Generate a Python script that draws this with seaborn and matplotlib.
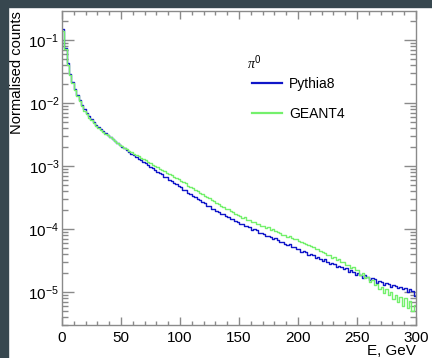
import numpy as np
import matplotlib
matplotlib.use("Agg")
from matplotlib import pyplot as plt
from matplotlib.patches import Rectangle
from matplotlib.ticker import MultipleLocator, LogLocator, NullFormatter
import pandas as pd
import seaborn as sns

# 2 GeV bins, 0-300 GeV
edges = np.arange(0, 302, 2)
centers = edges[:-1] + 1

pythia8 = [
    1.50e-1, 7.59e-2, 4.37e-2, 2.95e-2, 2.19e-2, 1.70e-2, 1.365e-2, 1.12e-2, 9.33e-3, 7.94e-3,
    6.92e-3, 6.17e-3, 5.56e-3, 5.01e-3, 4.57e-3, 4.22e-3, 3.89e-3, 3.63e-3, 3.39e-3, 3.16e-3,
    2.92e-3, 2.69e-3, 2.51e-3, 2.34e-3, 2.19e-3, 2.04e-3, 1.93e-3, 1.82e-3, 1.70e-3, 1.58e-3,
    1.49e-3, 1.42e-3, 1.31e-3, 1.25e-3, 1.15e-3, 1.11e-3, 1.03e-3, 9.8e-4, 9.2e-4, 8.8e-4,
    8.1e-4, 7.8e-4, 7.4e-4, 6.8e-4, 6.7e-4, 6.1e-4, 5.9e-4, 5.4e-4, 5.2e-4, 4.8e-4,
    4.6e-4, 4.2e-4, 4.1e-4, 3.75e-4, 3.62e-4, 3.35e-4, 3.2e-4, 2.95e-4, 2.85e-4, 2.66e-4,
    2.58e-4, 2.36e-4, 2.29e-4, 2.12e-4, 2.07e-4, 1.93e-4, 1.88e-4, 1.74e-4, 1.72e-4, 1.60e-4,
    1.57e-4, 1.45e-4, 1.43e-4, 1.32e-4, 1.31e-4, 1.22e-4, 1.21e-4, 1.13e-4, 1.12e-4, 1.08e-4,
    9.8e-5, 9.9e-5, 9.5e-5, 8.7e-5, 8.8e-5, 8.5e-5, 7.8e-5, 7.9e-5, 7.5e-5, 6.9e-5,
    7.1e-5, 6.7e-5, 6.2e-5, 6.3e-5, 5.8e-5, 5.6e-5, 5.7e-5, 5.1e-5, 5.2e-5, 4.8e-5,
    4.9e-5, 4.4e-5, 4.5e-5, 4.3e-5, 3.9e-5, 4.0e-5, 3.9e-5, 3.5e-5, 3.6e-5, 3.4e-5,
    3.1e-5, 3.3e-5, 3.0e-5, 2.8e-5, 2.9e-5, 2.8e-5, 2.5e-5, 2.6e-5, 2.5e-5, 2.3e-5,
    2.4e-5, 2.1e-5, 2.2e-5, 2.1e-5, 1.9e-5, 2.0e-5, 1.9e-5, 1.7e-5, 1.85e-5, 1.75e-5,
    1.55e-5, 1.65e-5, 1.6e-5, 1.4e-5, 1.5e-5, 1.45e-5, 1.3e-5, 1.4e-5, 1.35e-5, 1.2e-5,
    1.3e-5, 1.25e-5, 1.15e-5, 1.22e-5, 1.1e-5, 1.18e-5, 1.0e-5, 1.12e-5, 1.05e-5, 8.6e-6,
]

geant4 = [
    1.42e-1, 7.1e-2, 4.1e-2, 2.78e-2, 2.07e-2, 1.61e-2, 1.30e-2, 1.07e-2, 8.9e-3, 7.6e-3,
    6.6e-3, 5.9e-3, 5.3e-3, 4.8e-3, 4.38e-3, 4.05e-3, 3.75e-3, 3.50e-3, 3.28e-3, 3.07e-3,
    2.86e-3, 2.66e-3, 2.49e-3, 2.34e-3, 2.20e-3, 2.07e-3, 1.96e-3, 1.86e-3, 1.76e-3, 1.67e-3,
    1.58e-3, 1.50e-3, 1.43e-3, 1.36e-3, 1.29e-3, 1.23e-3, 1.16e-3, 1.10e-3, 1.05e-3, 1.00e-3,
    9.6e-4, 9.1e-4, 8.7e-4, 8.3e-4, 7.9e-4, 7.6e-4, 7.2e-4, 6.8e-4, 6.5e-4, 6.2e-4,
    5.8e-4, 5.5e-4, 5.3e-4, 4.9e-4, 4.7e-4, 4.45e-4, 4.15e-4, 4.0e-4, 3.75e-4, 3.6e-4,
    3.4e-4, 3.2e-4, 3.07e-4, 2.9e-4, 2.77e-4, 2.6e-4, 2.52e-4, 2.35e-4, 2.28e-4, 2.12e-4,
    2.06e-4, 1.93e-4, 1.86e-4, 1.74e-4, 1.70e-4, 1.60e-4, 1.52e-4, 1.53e-4, 1.41e-4, 1.40e-4,
    1.30e-4, 1.29e-4, 1.21e-4, 1.19e-4, 1.13e-4, 1.12e-4, 1.05e-4, 1.06e-4, 9.8e-5, 9.9e-5,
    9.2e-5, 8.9e-5, 8.6e-5, 8.2e-5, 8.1e-5, 7.6e-5, 7.7e-5, 7.2e-5, 7.0e-5, 6.9e-5,
    6.4e-5, 6.3e-5, 6.0e-5, 5.7e-5, 5.6e-5, 5.3e-5, 5.2e-5, 4.8e-5, 4.9e-5, 4.5e-5,
    4.4e-5, 4.2e-5, 3.9e-5, 3.9e-5, 3.5e-5, 3.6e-5, 3.2e-5, 3.3e-5, 3.0e-5, 2.95e-5,
    2.7e-5, 2.7e-5, 2.4e-5, 2.5e-5, 2.2e-5, 2.2e-5, 1.9e-5, 2.0e-5, 1.7e-5, 1.75e-5,
    1.45e-5, 1.55e-5, 1.3e-5, 1.35e-5, 1.1e-5, 1.2e-5, 9.5e-6, 1.1e-5, 9.0e-6, 1.0e-5,
    7.8e-6, 9.0e-6, 7.0e-6, 8.5e-6, 6.0e-6, 8.0e-6, 5.5e-6, 7.2e-6, 5.0e-6, 6.2e-6,
]

series_names = ["Pythia8", "GEANT4"]
series_colors = ["#1016c8", "#74f06c"]

plt.rcParams["font.family"] = ["Liberation Sans", "DejaVu Sans"]
plt.rcParams["mathtext.fontset"] = "custom"
plt.rcParams["mathtext.rm"] = "Liberation Sans"
plt.rcParams["mathtext.it"] = "Liberation Serif:italic"
plt.rcParams["mathtext.default"] = "regular"

fig, ax = plt.subplots(figsize=(4.32, 3.58), dpi=100)
fig.subplots_adjust(left=62/432, right=416/432, bottom=33/358, top=347/358)

for name, vals, col in zip(series_names, [pythia8, geant4], series_colors):
    df = pd.DataFrame({"E": centers, "counts": vals})
    sns.histplot(data=df, x="E", weights="counts", bins=edges.tolist(), element="step",
                 fill=False, color=col, linewidth=1.0, label=name, ax=ax)

ax.set_yscale("log")
ax.set_xlim(0, 300)
ax.set_ylim(3.0e-6, 0.29)

ax.xaxis.set_major_locator(MultipleLocator(50))
ax.xaxis.set_minor_locator(MultipleLocator(10))
ax.yaxis.set_major_locator(LogLocator(base=10, numticks=20))
ax.yaxis.set_minor_locator(LogLocator(base=10, subs=np.arange(2, 10), numticks=20))
ax.yaxis.set_minor_formatter(NullFormatter())

ax.tick_params(which="both", direction="in", top=True, right=True,
               color="#8a8a8a", width=1, labelsize=11, labelcolor="black")
ax.tick_params(axis="x", which="major", length=6, pad=4)
ax.tick_params(axis="x", which="minor", length=3)
ax.tick_params(axis="y", which="major", length=8.5, pad=2)
ax.tick_params(axis="y", which="minor", length=4)
for sp in ax.spines.values():
    sp.set_color("#8a8a8a")
    sp.set_linewidth(1)

ax.set_xlabel("E, GeV", fontsize=11, loc="right")
ax.xaxis.set_label_coords(1.0, -0.062)
ax.set_ylabel("Normalised counts", fontsize=10.6, loc="top")
ax.yaxis.set_label_coords(-0.108, 1.0)

ax.text(0.523, 0.834, r"$\mathit{\pi}^{0}$", transform=ax.transAxes,
        fontsize=10, ha="left", va="center")
leg = ax.legend(loc="upper left", bbox_to_anchor=(0.537, 0.79),
                frameon=False, fontsize=10, borderpad=0, borderaxespad=0,
                labelspacing=1.15, handlelength=2.15, handletextpad=0.5)
for h in leg.get_lines():
    h.set_linewidth(1.6)

# dark screenshot border on the top and left
fig.add_artist(Rectangle((0, 0), 8/432, 1, transform=fig.transFigure,
                         color="#37474f", zorder=10))
fig.add_artist(Rectangle((0, 1 - 7/358), 1, 7/358, transform=fig.transFigure,
                         color="#37474f", zorder=10))

fig.savefig("out.png", dpi=100)
